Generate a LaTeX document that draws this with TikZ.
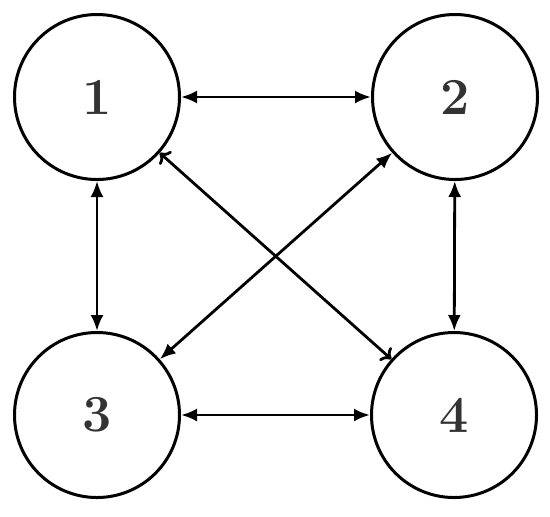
\documentclass[tikz,border=0pt]{standalone}
\usetikzlibrary{arrows.meta}
\tikzset{
  state/.style={draw, thick, line width=1.5pt, circle, minimum size=82.5pt, inner sep=0pt,
    font=\fontsize{26}{30}\selectfont\bfseries, text=black!80},
  link/.style={line width=1.4pt, {Latex[length=8pt,width=6.5pt]}-{Latex[length=8pt,width=6.5pt]}},
  openlink/.style={line width=1.4pt, {To[length=4.5pt,width=9pt]}-{To[length=4.5pt,width=9pt]}}
}
\begin{document}
\begin{tikzpicture}[x=0.5pt, y=-0.5pt]
    \useasboundingbox (0, 0) rectangle (550, 516);
    \node[state] (n1) at (97, 97) {1};
    \node[state] (n2) at (455, 97) {2};
    \node[state] (n3) at (97, 415) {3};
    \node[state] (n4) at (454, 415) {4};
    \draw[link] (n1) -- (n2);
    \draw[link] (n1) -- (n3);
    \draw[link] (n2) -- (n4);
    \draw[link] (n3) -- (n4);
    \draw[link] (n2) -- (n3);
    \draw[openlink] (n1) -- (n4);
\end{tikzpicture}
\end{document}
